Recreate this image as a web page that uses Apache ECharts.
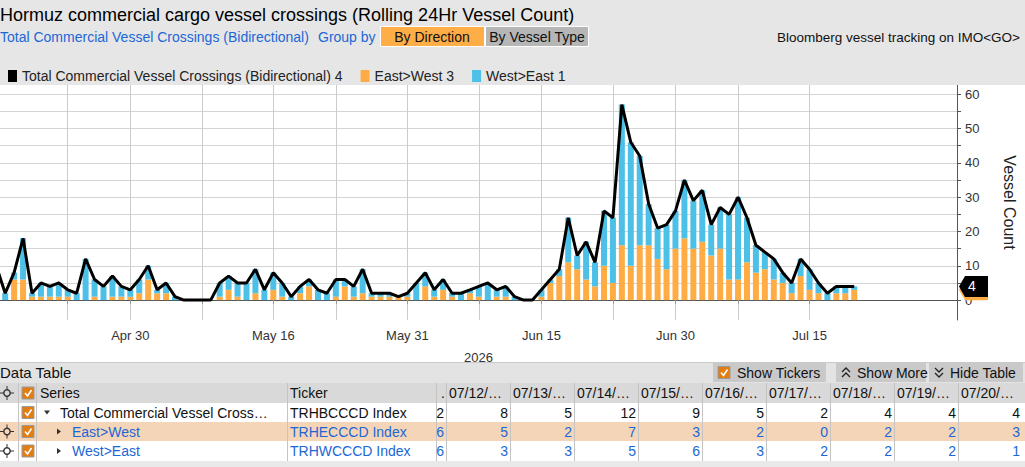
<!DOCTYPE html>
<html><head><meta charset="utf-8">
<script src="https://cdn.jsdelivr.net/npm/echarts@6/dist/echarts.min.js"></script>
<style>html,body{margin:0;padding:0;background:#fff;overflow:hidden}#c{width:1025px;height:467px}</style>
</head><body><div id="c"></div>
<script>
// ---- data (one value per day, day 0 = 2026-04-15) ----
const startYear = 2026, startMonth = 3, startDay = 15;
const totalCrossings = [10,2,8,18,2,5,4,5,3,2, 12,6,4,7,4,3,6,10,3,5, 1,0,0,0,0,5,7,5,5,9, 3,8,5,1,4,6,3,2,6,6, 4,9,2,2,2,1,2,5,8,3, 6,2,2,3,4,5,3,4,1,0, 0,3,6,9,24,13,17,11,26,24, 57,46,42,28,21,22,26,35,29,32, 22,27,25,30,24,16,14,12,8,5, 12,9,5,2,4,4,4];
const eastWest = [2,0,6,6,1,1,1,1,1,0, 0,1,0,1,1,1,2,6,2,2, 0,0,0,0,0,1,3,1,0,2, 0,3,1,0,2,4,0,0,1,4, 1,2,1,1,1,1,1,0,4,1, 3,1,0,2,1,0,1,1,0,0, 0,1,5,7,11,9,6,4,10,5, 16,10,16,16,12,9,15,18,15,17, 13,15,6,6,11,8,9,6,5,2, 7,3,2,0,2,2,3];
const westEast = [8,2,2,12,1,4,3,4,2,2, 12,5,4,6,3,2,4,4,1,3, 1,0,0,0,0,4,4,4,5,7, 3,5,4,1,2,2,3,2,5,2, 3,7,1,1,1,0,1,5,4,2, 3,1,2,1,3,5,2,3,1,0, 0,2,1,2,13,4,11,7,16,19, 41,36,26,12,9,13,11,17,14,15, 9,12,19,24,13,8,5,6,3,3, 5,6,3,2,2,2,1];
const xTickDays = [8,15,23,31,38,46,54,61,69,76,83,91];
const xLabelDays = [15,31,46,61,76,91];
const yTickValues = [0,5,10,15,20,25,30,35,40,45,50,55,60];
const yLabelValues = [0,10,20,30,40,50,60];
const seriesNames = ['Total Commercial Vessel Crossings (Bidirectional)','East>West','West>East'];
const tableSeries = ['Total Commercial Vessel Cross…','East>West','West>East'];
const tableTickers = ['TRHBCCCD Index','TRHECCCD Index','TRHWCCCD Index'];

const MONTHS=['Jan','Feb','Mar','Apr','May','Jun','Jul','Aug','Sep','Oct','Nov','Dec'];
function dayDate(i){return new Date(Date.UTC(startYear,startMonth,startDay+Math.round(i)));}
function axisDate(i){const d=dayDate(i);return MONTHS[d.getUTCMonth()]+' '+d.getUTCDate();}
function tableDate(i){const d=dayDate(i);const mm=String(d.getUTCMonth()+1).padStart(2,'0');const dd=String(d.getUTCDate()).padStart(2,'0');return mm+'/'+dd+'/…';}

const FONT='"Liberation Sans", Arial, sans-serif';
const BLUE='#1b67d6', ORANGE='#ffac45', SKY='#4cc0e7';
const lastOf = a => a[a.length-1];
const legendVals = {};
legendVals[seriesNames[0]] = lastOf(totalCrossings);
legendVals[seriesNames[1]] = lastOf(eastWest);
legendVals[seriesNames[2]] = lastOf(westEast);

const chart = echarts.init(document.getElementById('c'), null, {renderer:'svg'});

// ---- static page chrome (header + data table) ----
function txt(x,y,text,opt){opt=opt||{};return {type:'text',silent:true,z:opt.z||10,style:{x:x,y:y,text:String(text),fill:opt.fill||'#111',font:(opt.weight||'normal')+' '+(opt.size||14)+'px '+FONT,textAlign:opt.align||'left',textVerticalAlign:'middle'}};}
function rect(x,y,w,h,fill,stroke,z){return {type:'rect',silent:true,z:z||5,shape:{x:x,y:y,width:w,height:h},style:{fill:fill,stroke:stroke||null,lineWidth:1}};}
function line(x1,y1,x2,y2,stroke,z){return {type:'line',silent:true,z:z||6,shape:{x1:x1,y1:y1,x2:x2,y2:y2},style:{stroke:stroke,lineWidth:1}};}
function checkbox(x,y){return [rect(x,y,12,12,'#e27d12','#9a9a9a',8),{type:'polyline',silent:true,z:9,shape:{points:[[x+3,y+6],[x+5.5,y+9],[x+9.5,y+3]]},style:{stroke:'#fff',lineWidth:1.6,fill:null}}];}
function crosshair(cx,cy){return [{type:'circle',silent:true,z:9,shape:{cx:cx,cy:cy,r:3.2},style:{stroke:'#333',lineWidth:1.4,fill:null}},line(cx,cy-7,cx,cy-3,'#333',9),line(cx,cy+3,cx,cy+7,'#333',9),line(cx-7,cy,cx-3,cy,'#333',9),line(cx+3,cy,cx+7,cy,'#333',9)];}
function chevrons(x,y,up){const s=up?-1:1;return [{type:'polyline',silent:true,z:9,shape:{points:[[x,y-s*2],[x+4,y+s*2],[x+8,y-s*2]].map(p=>[p[0],p[1]-3])},style:{stroke:'#222',lineWidth:1.3,fill:null}},{type:'polyline',silent:true,z:9,shape:{points:[[x,y-s*2],[x+4,y+s*2],[x+8,y-s*2]].map(p=>[p[0],p[1]+2])},style:{stroke:'#222',lineWidth:1.3,fill:null}}];}

const g=[];
g.push(rect(0,0,1025,85,'#e6e6e6',null,1));
g.push(txt(0,15,'Hormuz commercial cargo vessel crossings (Rolling 24Hr Vessel Count)',{size:18,fill:'#000'}));
g.push(txt(0,37,'Total Commercial Vessel Crossings (Bidirectional)',{size:14,fill:BLUE}));
g.push(txt(318,37,'Group by',{size:14,fill:BLUE}));
g.push(rect(380.5,26.5,104,20,'#ffad47','#ffffff',6));
g.push(txt(432,37,'By Direction',{size:14,align:'center'}));
g.push(rect(485.5,26.5,103,20,'#b6b6b6','#ffffff',6));
g.push(txt(537,37,'By Vessel Type',{size:14,align:'center'}));
g.push(txt(1020,37,'Bloomberg vessel tracking on IMO<GO>',{size:13.5,align:'right'}));

// data table bar
g.push(rect(0,362,1025,21,'#e3e3e3',null,3));
g.push(line(0,362.5,1025,362.5,'#c9c9c9',4));
g.push(txt(0,372.5,'Data Table',{size:15}));
g.push(rect(713,363,113,19,'#c9c9c9',null,5));
g.push(...checkbox(718,366.5));
g.push(txt(737,373,'Show Tickers',{size:14}));
g.push(rect(836,363,90,19,'#c9c9c9',null,5));
g.push(...chevrons(842,373,true));
g.push(txt(857,373,'Show More',{size:14}));
g.push(rect(929,363,94,19,'#c9c9c9',null,5));
g.push(...chevrons(935,373,false));
g.push(txt(950,373,'Hide Table',{size:14}));

// table
const rowY=[383,403,422,441], rowH=[20,19,19,20];
g.push(rect(0,383,1025,20,'#d9d9d9',null,3));
g.push(rect(0,403,1025,19,'#ffffff',null,3));
g.push(rect(0,422,1025,19,'#f5d5b8',null,3));
g.push(rect(0,441,1025,20,'#ffffff',null,3));
g.push(rect(0,461,1025,6,'#e9e9e9',null,3));
const colLeft=[446,510,574,638,702,766,830,894,958], colW=64;
const seps=[18,36,287,436].concat(colLeft);
seps.forEach(x=>g.push(line(x+0.5,383,x+0.5,461,'#c4c4c4',4)));
g.push(...crosshair(7,393));
g.push(...checkbox(22,387));
g.push(txt(40,393,'Series',{size:14}));
g.push(txt(290,393,'Ticker',{size:14}));
g.push(txt(441,393,'.',{size:14}));
const nDays=totalCrossings.length;
const tableArrays=[totalCrossings,eastWest,westEast];
for(let c=0;c<colLeft.length;c++){
  const di=nDays-colLeft.length+c;
  g.push(txt(colLeft[c]+3,393,tableDate(di),{size:14}));
}
for(let r=0;r<3;r++){
  const cy=rowY[r+1]+rowH[r+1]/2;
  const fill=r===0?'#111':BLUE;
  if(r>0) g.push(...crosshair(7,cy));
  g.push(...checkbox(22,cy-6));
  if(r===0){g.push({type:'polygon',silent:true,z:9,shape:{points:[[44,cy-2],[50,cy-2],[47,cy+2]]},style:{fill:'#333'}});g.push(txt(60,cy,tableSeries[r],{size:14,fill:fill}));}
  else {g.push({type:'polygon',silent:true,z:9,shape:{points:[[57,cy-3],[61,cy],[57,cy+3]]},style:{fill:'#333'}});g.push(txt(72,cy,tableSeries[r],{size:14,fill:fill}));}
  g.push(txt(290,cy,tableTickers[r],{size:14,fill:fill}));
  const arr=tableArrays[r];
  const partial=String(arr[nDays-colLeft.length-1]);
  g.push(txt(444,cy,partial.slice(-1),{size:14,fill:fill,align:'right'}));
  for(let c=0;c<colLeft.length;c++){
    const di=nDays-colLeft.length+c;
    g.push(txt(colLeft[c]+colW-2,cy,arr[di],{size:14,fill:fill,align:'right'}));
  }
}

const splitColors=yTickValues.map(v=>v===0?'#9a9a9a':'#d4d4d4');
const X_MIN=0.42, X_MAX=107.5;

const option={
  backgroundColor:'#ffffff',
  animation:false,
  textStyle:{fontFamily:FONT},
  legend:{left:3,top:64,itemWidth:9,itemHeight:12,itemGap:18,icon:'rect',
    data:seriesNames,
    formatter:n=>n+' '+legendVals[n],
    textStyle:{fontSize:14,color:'#222',fontFamily:FONT}},
  grid:{left:0,right:58,top:85,bottom:147,containLabel:false},
  xAxis:{type:'value',min:X_MIN,max:X_MAX,
    axisLine:{show:true,lineStyle:{color:'#555',width:1}},
    axisTick:{show:true,customValues:xTickDays,length:4,lineStyle:{color:'#999'}},
    axisLabel:{show:true,customValues:xLabelDays,formatter:v=>axisDate(v),color:'#333',fontSize:13,margin:9,fontFamily:FONT},
    splitLine:{show:true,lineStyle:{color:'#cbcbcb',width:1}},
    name:'2026',nameLocation:'middle',nameGap:31,nameTextStyle:{color:'#333',fontSize:13,fontFamily:FONT}},
  yAxis:{type:'value',position:'right',min:-5.8,max:62.7,
    axisLine:{show:true,lineStyle:{color:'#555',width:1}},
    axisTick:{show:true,customValues:yTickValues,length:4,lineStyle:{color:'#555'}},
    axisLabel:{show:true,customValues:yLabelValues,color:'#333',fontSize:13,margin:8,fontFamily:FONT},
    splitLine:{show:true,lineStyle:{color:splitColors,width:1}},
    name:'Vessel Count',nameLocation:'middle',nameRotate:-90,nameGap:44,nameTextStyle:{color:'#222',fontSize:16,fontFamily:FONT}},
  series:[
    // [count, day] with encode so the count column is the stacked one
    {name:seriesNames[1],type:'bar',stack:'dir',barWidth:6,itemStyle:{color:ORANGE},encode:{x:1,y:0},data:eastWest.map((v,i)=>[v,i]),z:2},
    {name:seriesNames[2],type:'bar',stack:'dir',barWidth:6,itemStyle:{color:SKY},encode:{x:1,y:0},data:westEast.map((v,i)=>[v,i]),z:2},
    {name:seriesNames[0],type:'line',symbol:'none',color:'#000',lineStyle:{color:'#000',width:3},data:totalCrossings.map((v,i)=>[i,v]),z:4}
  ],
  graphic:g
};
chart.setOption(option);

// last-value tags on the right axis
function tag(value,fill,textColor,showText){
  const p=chart.convertToPixel({gridIndex:0},[X_MAX,value]);
  const x=p[0]+2, cy=p[1], h=10.5;
  const els=[{type:'polygon',silent:true,z:20,shape:{points:[[x,cy],[x+6,cy-h],[x+29,cy-h],[x+29,cy+h],[x+6,cy+h]]},style:{fill:fill}}];
  if(showText) els.push({type:'text',silent:true,z:21,style:{x:x+13,y:cy,text:String(value),fill:textColor,font:'14px '+FONT,textAlign:'center',textVerticalAlign:'middle'}});
  return els;
}
const tags=[].concat(tag(lastOf(eastWest),ORANGE,'#000',false),tag(lastOf(totalCrossings),'#000','#fff',true));
chart.setOption({graphic:g.concat(tags)});
</script></body></html>
